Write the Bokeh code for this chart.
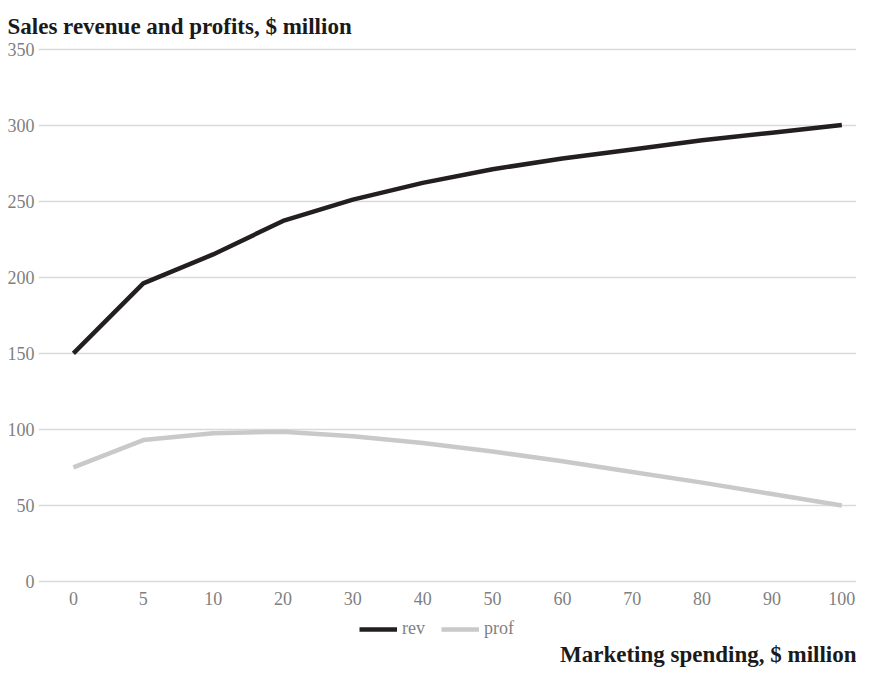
from bokeh.plotting import figure
from bokeh.models import (Range1d, FixedTicker, Legend, LegendItem, Title, ColumnDataSource)
from bokeh.embed import file_html
from bokeh.resources import INLINE

# ---- data ----
spend = ["0", "5", "10", "20", "30", "40", "50", "60", "70", "80", "90", "100"]
rev = [150, 196, 215, 237, 251, 262, 271, 278, 284, 290, 295, 300]
prof = [75, 93, 97.5, 98.5, 95.5, 91, 85.5, 79, 72, 65, 57.5, 50]
y_ticks = [0, 50, 100, 150, 200, 250, 300, 350]

FONT = "Liberation Serif"
GREY = "#7f7f7f"

pos = list(range(len(spend)))
src = ColumnDataSource(dict(x=pos, rev=rev, prof=prof))

# the frame reaches below zero so the legend can sit under the tick labels
p = figure(width=856, height=667, output_backend="svg", toolbar_location=None,
           x_range=Range1d(-0.5, len(spend) - 1 + 0.21), y_range=Range1d(-38.1, 351),
           min_border_left=38, min_border_right=0, min_border_top=47, min_border_bottom=28)
p.outline_line_color = None
p.background_fill_color = "white"
p.border_fill_color = "white"

p.title.text = "Sales revenue and profits, $ million"
p.title.text_font = FONT
p.title.text_font_style = "bold"
p.title.text_font_size = "23px"
p.title.text_color = "#1a1a1a"
p.title.align = "left"
p.title.offset = -31
p.title.standoff = 18

r1 = p.line("x", "rev", source=src, line_color="#231f20", line_width=4.5)
r2 = p.line("x", "prof", source=src, line_color="#c9c9c9", line_width=4.5)

# axes
p.xaxis.ticker = FixedTicker(ticks=pos)
p.xaxis.major_label_overrides = {i: s for i, s in enumerate(spend)}
p.xaxis.fixed_location = 0
p.yaxis.ticker = FixedTicker(ticks=y_ticks)
for ax in (p.xaxis[0], p.yaxis[0]):
    ax.axis_line_color = None
    ax.major_tick_line_color = None
    ax.minor_tick_line_color = None
    ax.major_tick_out = 0
    ax.major_tick_in = 0
    ax.major_label_text_font = FONT
    ax.major_label_text_font_size = "18px"
    ax.major_label_text_color = GREY
p.xaxis.major_label_standoff = 10
p.yaxis.major_label_standoff = 4

p.xgrid.grid_line_color = None
p.ygrid.ticker = FixedTicker(ticks=y_ticks)
p.ygrid.grid_line_color = "#d9d9d9"
p.ygrid.grid_line_width = 1.5

legend = Legend(items=[LegendItem(label="rev", renderers=[r1]),
                       LegendItem(label="prof", renderers=[r2])],
                orientation="horizontal", location=(321, 0),
                glyph_width=38, glyph_height=16, label_standoff=5, spacing=16,
                label_text_font=FONT, label_text_font_size="18px", label_text_color=GREY,
                border_line_color=None, background_fill_alpha=0,
                padding=2, margin=0)
p.add_layout(legend)

xt = Title(text="Marketing spending, $ million", align="right", text_font=FONT,
           text_font_style="bold", text_font_size="23px", text_color="#1a1a1a",
           standoff=0)
p.add_layout(xt, "below")

open("out.html", "w").write(file_html(p, INLINE))
